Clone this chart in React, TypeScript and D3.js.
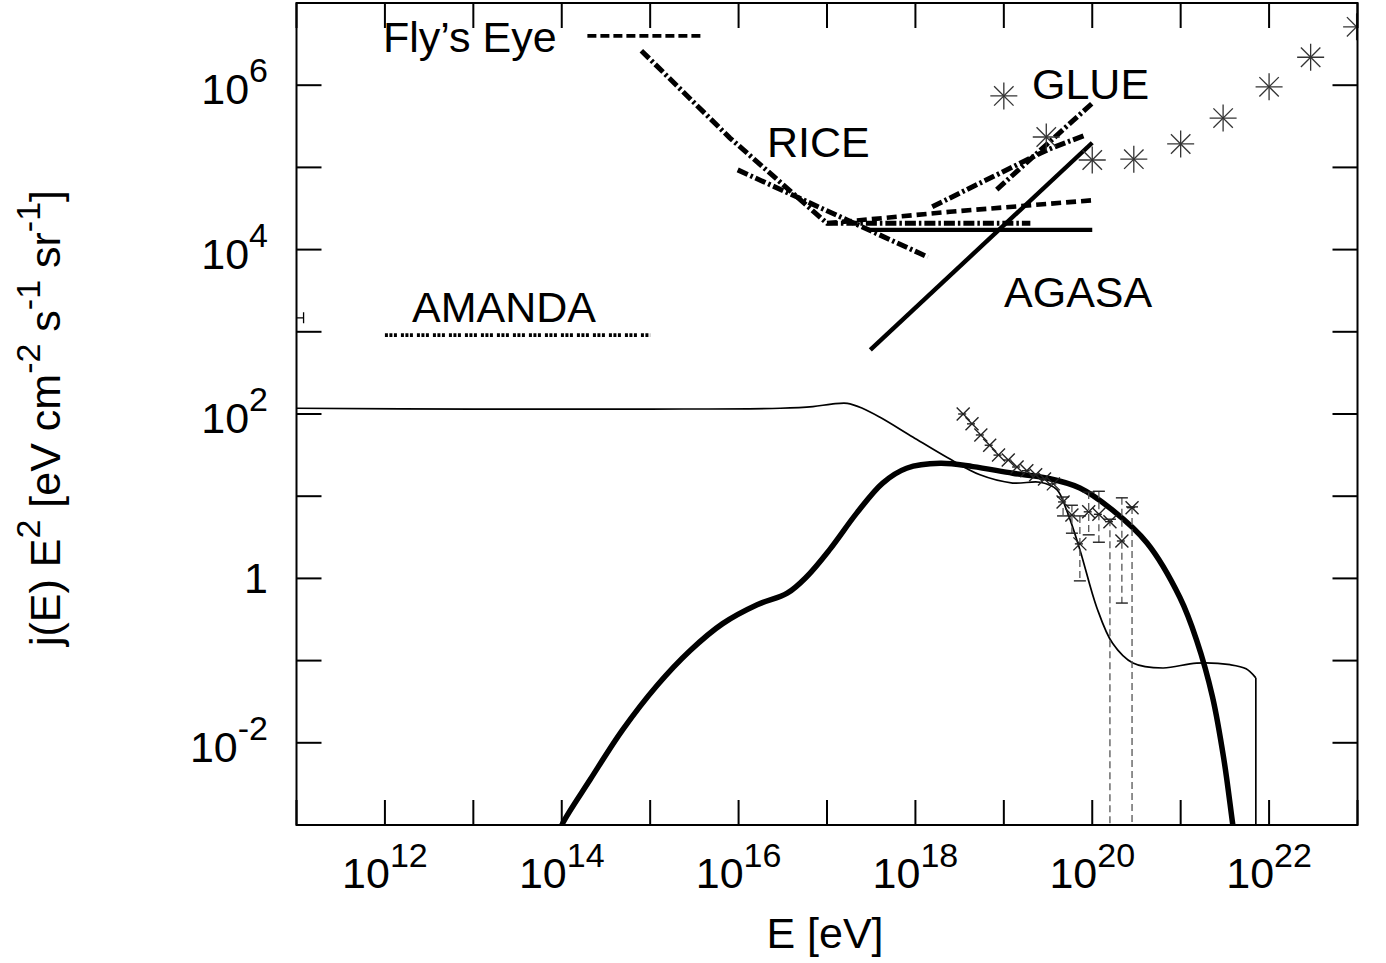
import React from "react";
import * as d3 from "d3";

// ---------- data (log10 E [eV], log10 j E^2) ----------
const thickCurve: [number, number][] = [
  [13.96, -3.12], [14.01, -2.98], [14.32, -2.45], [14.69, -1.84], [15.08, -1.30],
  [15.45, -0.88], [15.82, -0.55], [16.21, -0.32], [16.55, -0.18], [16.77, 0.02],
  [17.03, 0.35], [17.34, 0.80], [17.63, 1.16], [17.90, 1.34], [18.28, 1.40],
  [18.65, 1.36], [19.10, 1.28], [19.49, 1.22], [19.86, 1.10], [20.23, 0.83],
  [20.62, 0.43], [20.99, -0.23], [21.18, -0.75], [21.36, -1.44], [21.49, -2.21],
  [21.59, -3.0], [21.63, -3.3],
];

const thinCurve: [number, number][] = [
  [11.0, 2.07], [13.0, 2.06], [15.0, 2.06], [16.47, 2.07], [16.84, 2.09],
  [17.05, 2.12], [17.23, 2.13], [17.40, 2.07], [17.60, 1.96], [17.97, 1.72],
  [18.36, 1.47], [18.73, 1.26], [19.10, 1.16], [19.41, 1.17], [19.60, 1.08],
  [19.71, 0.83], [19.86, 0.35], [20.05, -0.35], [20.23, -0.79], [20.46, -1.03],
  [20.80, -1.09], [21.18, -1.03], [21.56, -1.05], [21.74, -1.10], [21.85, -1.21],
];
const thinCutoff: [number, number][] = [[21.85, -1.21], [21.85, -3.3]];

const flysEye: [number, number][] = [[14.29, 6.60], [15.60, 6.60]];
const amanda: [number, number][] = [[12.0, 2.96], [15.0, 2.96]];
const riceA: [number, number][] = [[14.90, 6.42], [15.90, 5.36], [17.0, 4.32], [19.30, 4.32]];
const riceB: [number, number][] = [[15.99, 4.97], [18.14, 3.91]];
const dashedLimit: [number, number][] = [[17.0, 4.32], [18.39, 4.46], [20.0, 4.60]];
const glueA: [number, number][] = [[18.19, 4.52], [18.58, 4.73], [18.96, 4.93], [19.49, 5.21], [19.92, 5.39]];
const glueB: [number, number][] = [[18.92, 4.73], [20.0, 5.78]];
const agasaFlat: [number, number][] = [[17.46, 4.24], [20.0, 4.24]];
const agasaSlope: [number, number][] = [[17.49, 2.78], [20.0, 5.30]];

const stars: [number, number][] = [
  [19.0, 5.87], [19.48, 5.37], [20.0, 5.09], [20.47, 5.10], [21.0, 5.285],
  [21.48, 5.60], [22.0, 5.98], [22.47, 6.34], [22.99, 6.71],
];

const crossPts: [number, number][] = [
  [18.54, 2.0], [18.64, 1.88], [18.74, 1.745], [18.84, 1.62], [18.94, 1.50],
  [19.05, 1.44], [19.15, 1.355], [19.26, 1.31], [19.36, 1.26], [19.46, 1.21],
  [19.56, 1.15],
];

// [logE, logJ, logLow, logHigh]
const barPts: [number, number, number, number][] = [
  [19.67, 0.93, 0.76, 0.99],
  [19.77, 0.77, 0.55, 0.89],
  [19.86, 0.42, -0.03, 0.76],
  [19.96, 0.81, 0.53, 1.05],
  [20.075, 0.78, 0.44, 1.06],
  [20.20, 0.69, -10, 0.72],
  [20.335, 0.455, -0.30, 0.98],
  [20.45, 0.86, -10, 0.87],
];
const edgeBar = { lx0: 10.9, lx1: 11.08, ly: 3.17 };

const xTickExp = d3.range(11, 24);
const xLabelExp = [12, 14, 16, 18, 20, 22];
const yTickExp = d3.range(-3, 8);
const yLabelExp = [-2, 0, 2, 4, 6];

// ---------- layout ----------
const W = 1386, H = 963;
const X0 = 296.5, X1 = 1357.5, Y0 = 3, Y1 = 825;
const FONT = "'Liberation Sans', Arial, Helvetica, sans-serif";
const FS = 43;
const SUP = 34;

const x = d3.scaleLog().domain([1e11, 1e23]).range([X0, X1]);
const y = d3.scaleLog().domain([1e-3, 1e7]).range([Y1, Y0]);
const px = (l: number) => x(Math.pow(10, l));
const py = (l: number) => y(Math.pow(10, l));

const lin = d3.line<[number, number]>().x(d => px(d[0])).y(d => py(d[1]));
const smooth = d3
  .line<[number, number]>()
  .x(d => px(d[0]))
  .y(d => py(d[1]))
  .curve(d3.curveCatmullRom.alpha(0.5));

type Seg = { t: string; sup?: boolean };

function RichText({ segs, raise, ...rest }: { segs: Seg[]; raise: number } & any) {
  let prevSup = false;
  return (
    <text {...rest}>
      {segs.map((s, i) => {
        let dy = 0;
        if (s.sup && !prevSup) dy = -raise;
        if (!s.sup && prevSup) dy = raise;
        prevSup = !!s.sup;
        return (
          <tspan key={i} dy={dy} fontSize={s.sup ? SUP : FS} style={{ whiteSpace: "pre" }}>
            {s.t}
          </tspan>
        );
      })}
    </text>
  );
}

const DASHDOT = "11,3,2.5,3";

export default function App() {
  const starArm = 13.5;
  const crossArm = 6.5;
  return (
    <svg width={W} height={H} style={{ position: "absolute", left: 0, top: 0, background: "#fff" }} fontFamily={FONT}>
      <defs>
        <clipPath id="plotClip">
          <rect x={X0} y={Y0} width={X1 - X0} height={Y1 - Y0} />
        </clipPath>
      </defs>
      <rect x={0} y={0} width={W} height={H} fill="#fff" />

      <g clipPath="url(#plotClip)" fill="none">
        {/* model curves */}
        <path d={smooth(thinCurve) || ""} stroke="#000" strokeWidth={1.7} />
        <path d={lin(thinCutoff) || ""} stroke="#000" strokeWidth={1.7} />
        <path d={smooth(thickCurve) || ""} stroke="#000" strokeWidth={5.5} />

        {/* limits */}
        <path d={lin(flysEye) || ""} stroke="#000" strokeWidth={3.6} strokeDasharray="9,4" />
        <path d={lin(amanda) || ""} stroke="#000" strokeWidth={3.8} strokeDasharray="3,1.5,3,1.5,3,4" />
        <path d={lin(riceA) || ""} stroke="#000" strokeWidth={5} strokeDasharray={DASHDOT} />
        <path d={lin(riceB) || ""} stroke="#000" strokeWidth={5} strokeDasharray={DASHDOT} />
        <path d={lin(dashedLimit) || ""} stroke="#000" strokeWidth={4.6} strokeDasharray="10,5" />
        <path d={smooth(glueA) || ""} stroke="#000" strokeWidth={5} strokeDasharray={DASHDOT} />
        <path d={lin(glueB) || ""} stroke="#000" strokeWidth={5} strokeDasharray={DASHDOT} />
        <path d={lin(agasaFlat) || ""} stroke="#000" strokeWidth={4.4} />
        <path d={lin(agasaSlope) || ""} stroke="#000" strokeWidth={4.4} />

        {/* edge error bar */}
        <line x1={px(edgeBar.lx0)} x2={px(edgeBar.lx1)} y1={py(edgeBar.ly)} y2={py(edgeBar.ly)} stroke="#000" strokeWidth={1.3} />
        <line x1={px(edgeBar.lx1)} x2={px(edgeBar.lx1)} y1={py(edgeBar.ly) - 5.5} y2={py(edgeBar.ly) + 5.5} stroke="#000" strokeWidth={1.3} />

        {/* error bars */}
        {barPts.map((d, i) => {
          const cx = px(d[0]);
          const lo = py(d[2]);
          const hi = py(d[3]);
          return (
            <g key={"b" + i}>
              <line x1={cx} x2={cx} y1={hi} y2={lo} stroke="#555" strokeWidth={1.3} strokeDasharray="7,4" />
              <line x1={cx - 6} x2={cx + 6} y1={hi} y2={hi} stroke="#222" strokeWidth={1.4} />
              {d[2] > -5 && <line x1={cx - 6} x2={cx + 6} y1={lo} y2={lo} stroke="#222" strokeWidth={1.4} />}
            </g>
          );
        })}

        {/* crosses */}
        {[...crossPts, ...barPts.map(d => [d[0], d[1]] as [number, number])].map((d, i) => {
          const cx = px(d[0]);
          const cy = py(d[1]);
          return (
            <g key={"c" + i} stroke="#222" strokeWidth={1.4}>
              <line x1={cx - crossArm} y1={cy - crossArm} x2={cx + crossArm} y2={cy + crossArm} />
              <line x1={cx - crossArm} y1={cy + crossArm} x2={cx + crossArm} y2={cy - crossArm} />
              <line x1={cx - 5} y1={cy} x2={cx + 3} y2={cy} />
            </g>
          );
        })}

        {/* star points */}
        {stars.map((d, i) => {
          const cx = px(d[0]);
          const cy = py(d[1]);
          const a = starArm, b = starArm * 0.72;
          return (
            <g key={"s" + i} stroke="#333" strokeWidth={1.3}>
              <line x1={cx - a} y1={cy} x2={cx + a} y2={cy} />
              <line x1={cx} y1={cy - a} x2={cx} y2={cy + a} />
              <line x1={cx - b} y1={cy - b} x2={cx + b} y2={cy + b} />
              <line x1={cx - b} y1={cy + b} x2={cx + b} y2={cy - b} />
            </g>
          );
        })}
      </g>

      {/* frame */}
      <rect x={X0} y={Y0} width={X1 - X0} height={Y1 - Y0} fill="none" stroke="#000" strokeWidth={2} />
      {xTickExp.map(e => {
        const xx = x(Math.pow(10, e));
        return (
          <g key={"xt" + e} stroke="#000" strokeWidth={2}>
            <line x1={xx} x2={xx} y1={Y1} y2={Y1 - 25} />
            <line x1={xx} x2={xx} y1={Y0} y2={Y0 + 25} />
          </g>
        );
      })}
      {yTickExp.map(e => {
        const yy = y(Math.pow(10, e));
        return (
          <g key={"yt" + e} stroke="#000" strokeWidth={2}>
            <line x1={X0} x2={X0 + 25} y1={yy} y2={yy} />
            <line x1={X1} x2={X1 - 25} y1={yy} y2={yy} />
          </g>
        );
      })}

      {/* x tick labels */}
      {xLabelExp.map(e => (
        <RichText
          key={"xl" + e}
          x={x(Math.pow(10, e))}
          y={Y1 + 63}
          textAnchor="middle"
          raise={21}
          segs={[{ t: "10" }, { t: String(e), sup: true }]}
        />
      ))}
      {/* y tick labels */}
      {yLabelExp.map(e => {
        const yy = y(Math.pow(10, e));
        if (e === 0)
          return (
            <text key="yl0" x={268} y={yy + 15} textAnchor="end" fontSize={FS}>
              1
            </text>
          );
        return (
          <RichText
            key={"yl" + e}
            x={268}
            y={yy + 19}
            textAnchor="end"
            raise={22}
            segs={[{ t: "10" }, { t: String(e), sup: true }]}
          />
        );
      })}

      {/* axis titles */}
      <text x={(X0 + X1) / 2 - 2} y={948} textAnchor="middle" fontSize={FS}>
        E [eV]
      </text>
      <RichText
        transform={`translate(60,418) rotate(-90)`}
        x={0}
        y={0}
        textAnchor="middle"
        raise={20}
        segs={[
          { t: "j(E) E" },
          { t: "2", sup: true },
          { t: " [eV cm" },
          { t: "-2", sup: true },
          { t: " s" },
          { t: "-1", sup: true },
          { t: " sr" },
          { t: "-1", sup: true },
          { t: "]" },
        ]}
      />

      {/* in-plot labels */}
      <text x={383} y={52} fontSize={FS}>Fly’s Eye</text>
      <text x={767} y={157} fontSize={FS}>RICE</text>
      <text x={1032} y={99} fontSize={FS}>GLUE</text>
      <text x={1004} y={307} fontSize={FS}>AGASA</text>
      <text x={412} y={322} fontSize={FS}>AMANDA</text>
    </svg>
  );
}
